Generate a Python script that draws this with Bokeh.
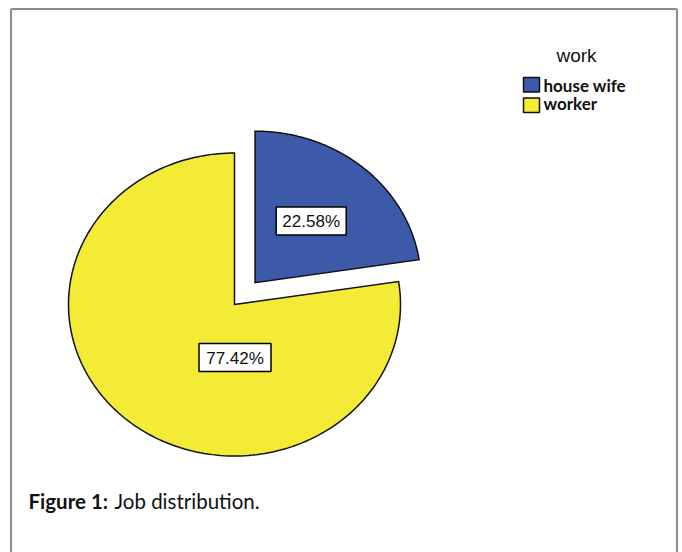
import numpy as np
from bokeh.plotting import figure
from bokeh.models import Range1d
from bokeh.embed import file_html
from bokeh.resources import INLINE
from bokeh.core.properties import value

# ---- data ----
categories = ["house wife", "worker"]
percents = [22.58, 77.42]
colors = ["#3d5aa9", "#f3eb35"]
pct_labels = ["22.58%", "77.42%"]
legend_title = "work"
caption_bold = "Figure 1:"
caption_text = "Job distribution."

# ---- layout ----
W, H = 682, 552
def X(xr):  # reference pixel -> data
    return xr
def Y(yr):
    return H - yr

p = figure(width=W, height=H, x_range=Range1d(0, W), y_range=Range1d(0, H),
           x_axis_type=None, y_axis_type=None, output_backend="svg",
           toolbar_location=None, min_border=0)
p.grid.visible = False
p.outline_line_color = None
p.background_fill_color = "white"
p.border_fill_color = "white"

# frame (left, top, right)
frame_col = "#8c8c8c"
p.line([X(10.5), X(10.5)], [Y(8.5), 0], line_color=frame_col, line_width=2)
p.line([X(10.5), X(676.5)], [Y(8.5), Y(8.5)], line_color=frame_col, line_width=2)
p.line([X(676.5), X(676.5)], [Y(8.5), 0], line_color=frame_col, line_width=2)

# pie (elliptical, SPSS-like), house wife exploded
cx, cy = X(234), Y(304)
rx, ry = 166, 151.5
explode = [0.19, 0.0]
label_pos = [(310.7, 220.5), (234.5, 357)]
box_w = [70, 72]

cum = 0.0
xs_all, ys_all = [], []
for i, pct in enumerate(percents):
    a0 = 90 - cum * 3.6
    a1 = 90 - (cum + pct) * 3.6
    cum += pct
    mid = np.radians((a0 + a1) / 2)
    ox = explode[i] * rx * np.cos(mid)
    oy = explode[i] * ry * np.sin(mid)
    t = np.radians(np.linspace(a0, a1, 200))
    xs = [cx + ox] + list(cx + ox + rx * np.cos(t)) + [cx + ox]
    ys = [cy + oy] + list(cy + oy + ry * np.sin(t)) + [cy + oy]
    xs_all.append(xs)
    ys_all.append(ys)

p.patches(xs_all, ys_all, fill_color=colors, line_color="#111111", line_width=1.5,
          line_join="miter")

# percentage labels with boxes
lx = [X(a) for a, b in label_pos]
ly = [Y(b) for a, b in label_pos]
p.rect(lx, ly, width=box_w, height=28, width_units="screen", height_units="screen",
       fill_color="white", line_color="black", line_width=1.5)
p.text(lx, [v - 0.5 for v in ly], text=pct_labels, text_align="center", text_baseline="middle",
       text_font=value("Liberation Sans"), text_font_size="17px", text_color="#111111")

# legend
p.text([X(576)], [Y(55)], text=[legend_title], text_align="center",
       text_baseline="middle", text_font=value("Liberation Sans"),
       text_font_size="19px", text_color="#111111")
sq_y = [Y(84.2), Y(104.7)]
p.rect([X(531)] * 2, sq_y, width=16, height=14.5, width_units="screen",
       height_units="screen", fill_color=colors, line_color="#111111", line_width=1.5)
p.text([X(543)] * 2, [Y(85), Y(102.5)], text=categories, text_align="left",
       text_baseline="middle", text_font=value("Lato"),
       text_font_style="bold", text_font_size="17px", text_color="#111111")

# caption
p.text([X(28)], [Y(500)], text=[caption_bold], text_align="left",
       text_baseline="middle", text_font=value("Lato"), text_font_style="bold",
       text_font_size="20.5px", text_color="#111111")
p.text([X(114)], [Y(500)], text=[caption_text], text_align="left",
       text_baseline="middle", text_font=value("Lato"),
       text_font_size="20.5px", text_color="#111111")

open("out.html", "w").write(file_html(p, INLINE))
